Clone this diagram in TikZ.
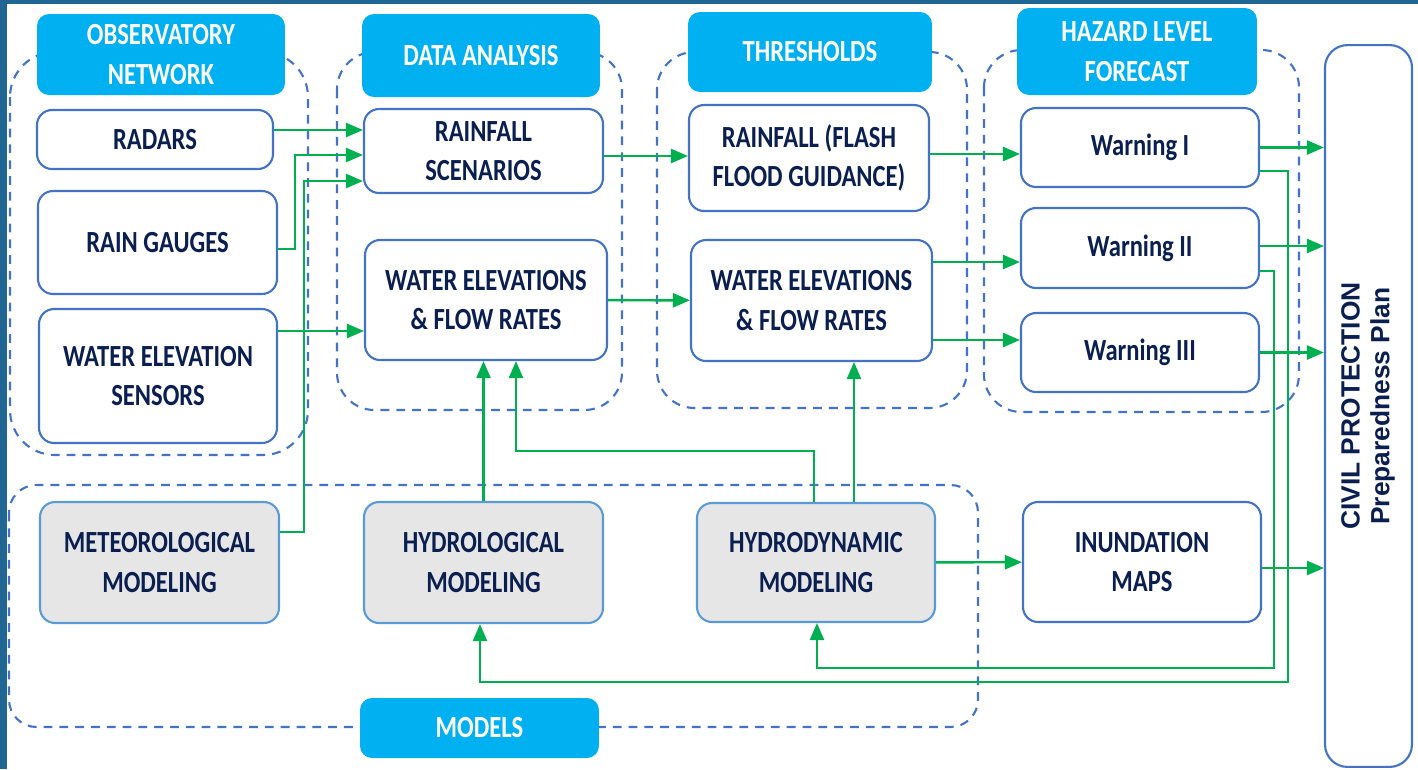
\documentclass[tikz,border=0pt]{standalone}
\usepackage{fontspec}
\setmainfont{Carlito}[FakeStretch=0.8]
\newfontfamily\civfont{Liberation Sans}
\usetikzlibrary{arrows.meta,calc}
\definecolor{boxblue}{HTML}{4472C4}
\definecolor{modedge}{HTML}{5B9BD5}
\definecolor{modgray}{HTML}{E6E6E6}
\definecolor{headcyan}{HTML}{00B0F0}
\definecolor{arrgreen}{HTML}{00B050}
\definecolor{txtnavy}{HTML}{0A1F50}
\definecolor{bgdark}{HTML}{1F6692}
\definecolor{bglight}{HTML}{4A9CC9}

\begin{document}
\begin{tikzpicture}[
  x=0.02cm, y=-0.02cm,
  font=\bfseries\fontsize{17.5}{22.5}\selectfont,
  box/.style={draw=boxblue, line width=1.2pt, rounded corners=0.3cm, fill=white, text=txtnavy, align=center, inner sep=0pt},
  model/.style={box, draw=modedge, fill=modgray},
  head/.style={fill=headcyan, rounded corners=0.24cm, text=white, align=center, inner sep=0pt},
  group/.style={draw=boxblue, line width=1.2pt, dash pattern=on 5pt off 4pt, rounded corners=0.75cm},
  arr/.style={-{Triangle[length=0.34cm,width=0.28cm]}, draw=arrgreen, line width=1.4pt}
]
\useasboundingbox (0,0) rectangle (1418,769);
\fill[bgdark] (0,0) rectangle (1418,769);
\shade[left color=bgdark, middle color=bglight, right color=bgdark] (0,0) rectangle (1418,3.5);
\fill[white] (7,3.5) rectangle (1418,769);

\draw[group, rounded corners=0.9cm] (10,52) rectangle (308,455);
\draw[group] (337,52) rectangle (622,410);
\draw[group] (657,52) rectangle (967,408);
\draw[group] (984,50) rectangle (1299,412);
\draw[group, rounded corners=0.55cm] (9,485) rectangle (978,727);

\node[head, minimum width=4.96cm, minimum height=1.62cm] (hobs) at (161,54.5) {OBSERVATORY\\NETWORK};
\node[head, minimum width=4.76cm, minimum height=1.66cm] (hda) at (481,55.5) {DATA ANALYSIS};
\node[head, minimum width=4.88cm, minimum height=1.6cm] (hth) at (810,52) {THRESHOLDS};
\node[head, minimum width=4.8cm, minimum height=1.74cm] (hhaz) at (1137,51.5) {HAZARD LEVEL\\FORECAST};
\node[head, minimum width=4.78cm, minimum height=1.2cm] (hmod) at (479.5,728) {MODELS};

\node[box, minimum width=4.72cm, minimum height=1.18cm] (radars) at (155,139.5) {RADARS};
\node[box, minimum width=4.78cm, minimum height=2.06cm] (gauges) at (157.5,242.5) {RAIN GAUGES};
\node[box, minimum width=4.76cm, minimum height=2.68cm] (sensors) at (158,376) {WATER ELEVATION\\SENSORS};
\node[box, minimum width=4.78cm, minimum height=1.68cm] (scen) at (483.5,151) {RAINFALL\\SCENARIOS};
\node[box, minimum width=4.84cm, minimum height=2.4cm] (daflow) at (486,300) {WATER ELEVATIONS\\\& FLOW RATES};
\node[box, minimum width=4.8cm, minimum height=2.12cm] (ffg) at (809,158) {RAINFALL (FLASH\\FLOOD GUIDANCE)};
\node[box, minimum width=4.82cm, minimum height=2.42cm] (thflow) at (811.5,300.5) {WATER ELEVATIONS\\\& FLOW RATES};
\node[box, minimum width=4.76cm, minimum height=1.58cm] (warn1) at (1140,147.5) {Warning I};
\node[box, minimum width=4.76cm, minimum height=1.6cm] (warn2) at (1140,248) {Warning II};
\node[box, minimum width=4.76cm, minimum height=1.58cm] (warn3) at (1140,352.5) {Warning III};
\node[model, minimum width=4.78cm, minimum height=2.42cm] (meteo) at (159.5,562.5) {METEOROLOGICAL\\MODELING};
\node[model, minimum width=4.78cm, minimum height=2.42cm] (hydro) at (483.5,562.5) {HYDROLOGICAL\\MODELING};
\node[model, minimum width=4.76cm, minimum height=2.38cm] (hdyn) at (816,562.5) {HYDRODYNAMIC\\MODELING};
\node[box, minimum width=4.76cm, minimum height=2.4cm] (inund) at (1142,562) {INUNDATION\\MAPS};
\node[box, rounded corners=0.45cm, minimum width=1.74cm, minimum height=14.44cm] (civil) at (1368.5,406)
  {\rotatebox{90}{\civfont\bfseries\fontsize{15}{17}\selectfont\begin{tabular}{@{}c@{}}CIVIL PROTECTION\\Preparedness Plan\end{tabular}}};

\draw[arr] ($(radars.east)+(0,-9.5)$) coordinate (a1) -- (a1 -| scen.west);
\draw[arr] ($(gauges.east)+(0,6.5)$) -- ++(17,0) |- ($(scen.west)+(0,4)$);
\draw[arr] ($(meteo.east)+(0,-30.5)$) -- ++(24,0) |- ($(scen.west)+(0,30)$);
\draw[arr] ($(sensors.east)+(0,-45)$) coordinate (a4) -- (a4 -| daflow.west);
\draw[arr] ($(scen.east)+(0,5)$) coordinate (a5) -- (a5 -| ffg.west);
\draw[arr] (daflow) -- (thflow);
\draw[arr] ($(ffg.east)+(0,-4)$) coordinate (a7) -- (a7 -| warn1.west);
\draw[arr] ($(thflow.east)+(0,-38.5)$) coordinate (a8) -- (a8 -| warn2.west);
\draw[arr] ($(thflow.east)+(0,39.5)$) coordinate (a9) -- (a9 -| warn3.west);
\draw[arr] (warn1.east) -- (warn1.east -| civil.west);
\draw[arr] ($(warn2.east)+(0,-2)$) coordinate (a11) -- (a11 -| civil.west);
\draw[arr] (warn3.east) -- (warn3.east -| civil.west);
\draw[arr] ($(inund.east)+(0,6)$) coordinate (a13) -- (a13 -| civil.west);
\draw[arr] (hdyn) -- (inund);
\draw[arr] (hydro.north) -- (hydro.north |- daflow.south);
\draw[arr] ($(hdyn.north)+(-2,0)$) -- ++(0,-51) -| ($(daflow.south)+(30,0)$);
\draw[arr] ($(hdyn.north)+(38,0)$) coordinate (a17) -- (a17 |- thflow.south);
\draw[arr] ($(warn1.east)+(0,23.5)$) -- ++(28,0) -- ++(0,511) -| ($(hydro.south)+(-3.5,0)$);
\draw[arr] ($(warn2.east)+(0,23)$) -- ++(14,0) -- ++(0,397) -| ($(hdyn.south)+(1,0)$);
\end{tikzpicture}
\end{document}
